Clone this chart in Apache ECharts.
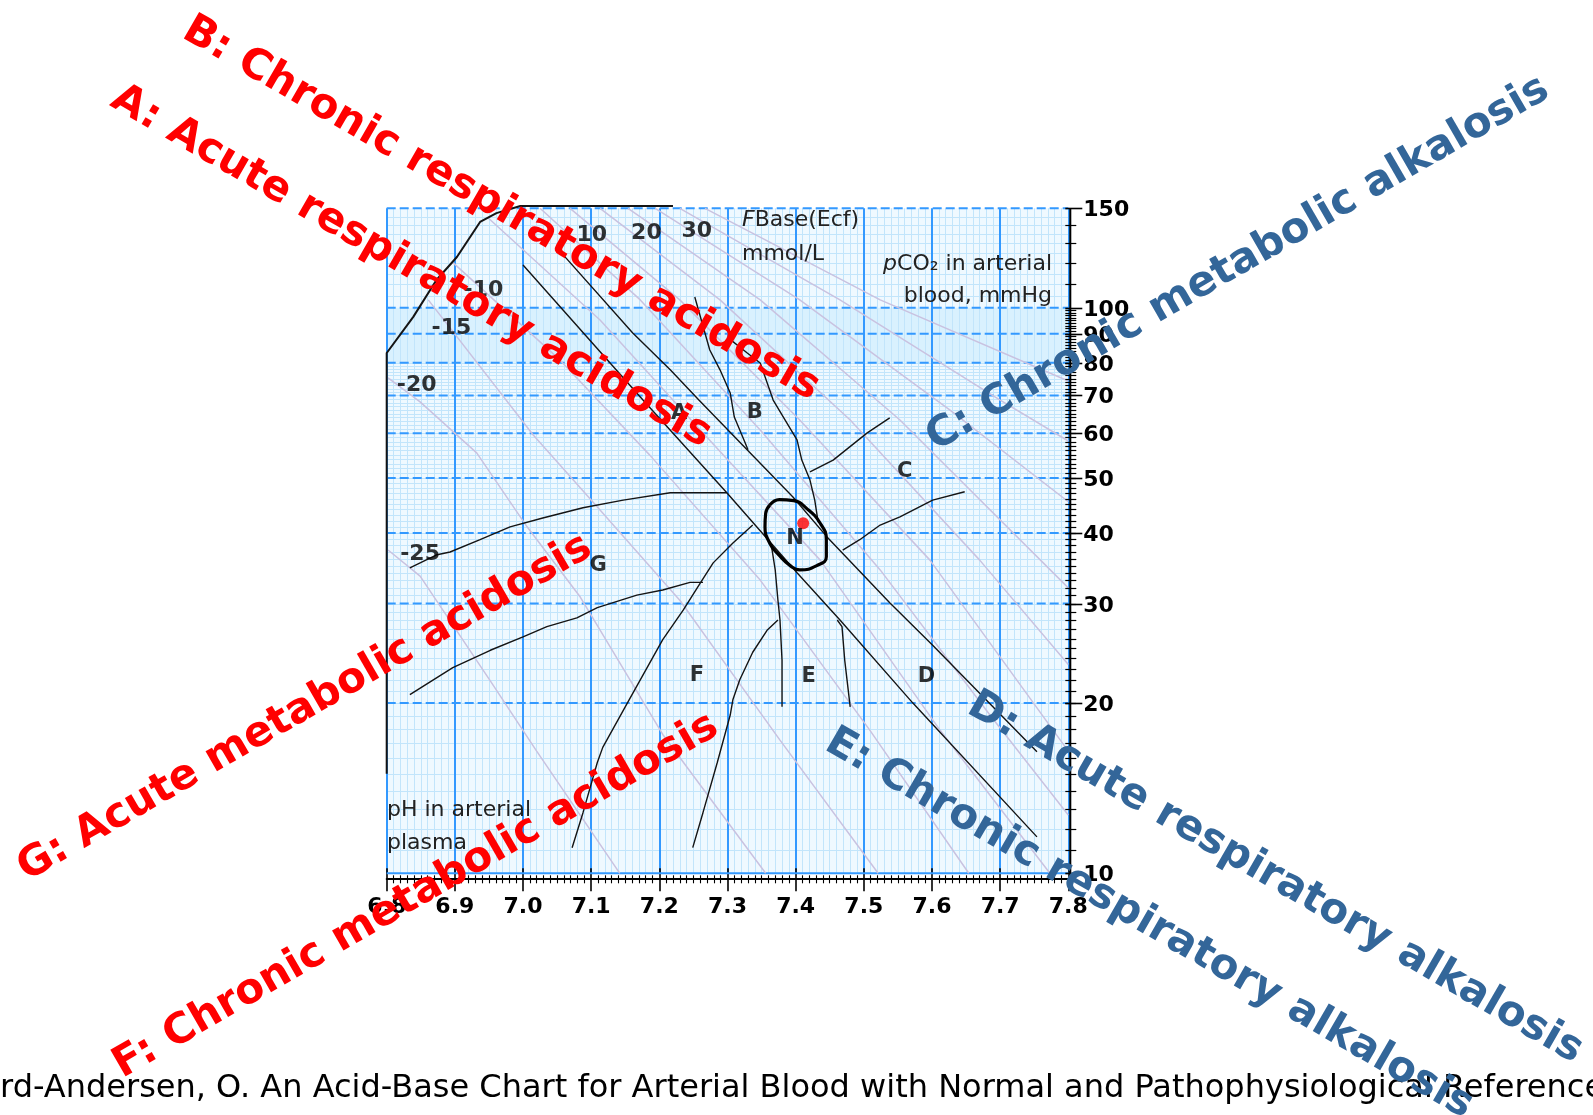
<!DOCTYPE html>
<html><head><meta charset="utf-8">
<script src="https://cdn.jsdelivr.net/npm/echarts@6/dist/echarts.min.js"></script>
<style>html,body{margin:0;padding:0;background:#fff}#c{width:1593px;height:1115px}</style>
</head><body><div id="c"></div>
<script>
// ---------- axis ticks / labels ----------
const phMin = 6.8, phMax = 7.8, phStep = 0.1;
const pco2Min = 10, pco2Max = 150;
const pco2AxisLabels = [10, 20, 30, 40, 50, 60, 70, 80, 90, 100, 150];
const pco2DashedGrid = [20, 30, 40, 50, 60, 70, 80, 90, 100, 150];
const pco2BandLight = [80, 100];
const pco2MinorTicks = [];
for (let v = 11; v < 100; v++) pco2MinorTicks.push(v);
const pco2MinorTicksHigh = [110, 120, 130, 140];
const pco2MinorGridHigh = [105, 110, 115, 120, 125, 130, 135, 140, 145];

// ---------- curves [pH, pCO2 mmHg] ----------
const chartBoundary = [[6.8,15.0],[6.8,83.2],[6.839,96.4],[6.873,112.0],[6.903,123.0],[6.937,141.9],[6.961,147.1],[6.996,151.4],[7.220,151.4]];
const lineL1 = [[7.000,119.1],[7.176,68.7],[7.299,47.1],[7.402,34.0],[7.465,28.05],[7.572,20.0],[7.754,11.6]];
const lineL2 = [[7.059,124.1],[7.161,90.3],[7.216,77.7],[7.258,68.7],[7.396,46.3],[7.446,39.35],[7.538,30.1],[7.601,25.3],[7.754,16.4]];
const lineBLeft = [[7.252,104.5],[7.274,84.25],[7.289,77.7],[7.304,70.7],[7.310,64.1],[7.326,57.7],[7.330,56.1]];
const lineBRight = [[7.301,88.5],[7.329,83.2],[7.348,79.9],[7.367,68.7],[7.387,62.6],[7.402,58.4],[7.409,53.8],[7.421,49.6],[7.428,45.7],[7.433,41.8]];
const lineCUpper = [[7.421,51.3],[7.455,53.8],[7.505,60.1],[7.538,63.9]];
const lineCLower = [[7.469,37.3],[7.494,38.9],[7.524,41.3],[7.553,42.7],[7.601,45.7],[7.648,47.3]];
const lineELeft = [[7.365,37.6],[7.370,34.4],[7.374,30.4],[7.377,28.05],[7.380,23.8],[7.380,19.7]];
const lineERight = [[7.461,28.05],[7.468,27.3],[7.472,23.8],[7.480,19.7]];
const lineFRight = [[7.374,28.05],[7.358,26.9],[7.337,24.6],[7.318,22.0],[7.308,20.3],[7.304,19.05],[7.285,15.7],[7.264,12.8],[7.249,11.1]];
const lineFLeft = [[7.337,41.3],[7.308,38.4],[7.279,35.4],[7.260,32.6],[7.235,29.2],[7.205,25.9],[7.153,20.0],[7.117,16.7],[7.109,15.7],[7.088,12.8],[7.072,11.1]];
const lineGUpper = [[6.834,34.7],[6.874,36.6],[6.893,37.0],[6.937,38.9],[6.981,41.0],[7.029,42.5],[7.088,44.3],[7.147,45.7],[7.216,47.1],[7.299,47.1]];
const lineGLower = [[7.264,32.7],[7.245,32.7],[7.205,31.7],[7.167,31.05],[7.109,29.5],[7.079,28.3],[7.035,27.3],[7.000,26.2],[6.952,24.8],[6.897,23.1],[6.834,20.7]];
const normalEllipse = [[7.362,44.8],[7.376,45.8],[7.397,45.6],[7.416,44.2],[7.436,41.6],[7.445,38.9],[7.445,36.3],[7.431,35.0],[7.406,34.4],[7.392,35.0],[7.375,36.6],[7.362,38.35],[7.355,41.0],[7.356,43.3],[7.362,44.8]];
const normalPoint = [7.411, 41.6];

// ---------- base excess iso-lines ----------
const beM25 = [[6.802,37.3],[6.849,33.55],[6.952,21.9],[7.020,16.45],[7.142,10]];
const beM20 = [[6.802,75.2],[6.849,68.2],[6.932,55.4],[7.006,41.0],[7.084,30.8],[7.205,17.6],[7.356,10]];
const beM15 = [[6.861,103.3],[7.015,59.6],[7.113,43.9],[7.230,30.4],[7.377,17.2],[7.521,10]];
const beM10 = [[6.896,120.6],[7.054,80.9],[7.186,54.9],[7.348,33.0],[7.509,17.9],[7.654,10]];
const beM5 = [[6.949,144.2],[7.113,95.2],[7.260,60.8],[7.436,35.8],[7.612,17.9],[7.773,10]];
const beP0 = [[7.025,150],[7.172,103.3],[7.348,60.8],[7.524,34.4],[7.685,19.05],[7.8,12.68]];
const beP5 = [[7.069,150],[7.230,103.3],[7.406,63.35],[7.597,35.8],[7.8,16.45]];
const beP10 = [[7.113,150],[7.289,103.3],[7.480,63.35],[7.670,35.8],[7.8,23.4]];
const beP15 = [[7.154,150],[7.348,103.3],[7.553,63.35],[7.8,31.97]];
const beP20 = [[7.194,150],[7.406,103.3],[7.626,66.0],[7.8,45.4]];
const beP25 = [[7.230,150],[7.465,103.3],[7.700,68.7],[7.8,58.15]];
const beP30 = [[7.267,150],[7.524,103.3],[7.8,74.25]];

// ---------- labels ----------
const regionLabels = [['A',7.229,64.9],['B',7.340,65.2],['C',7.560,51.4],['D',7.592,22.3],['E',7.419,22.3],['F',7.255,22.4],['G',7.110,35.0],['N',7.399,39.1]];
const beLabels = [['10',7.101,134.6],['20',7.181,135.5],['30',7.255,136.4],['-10',6.942,107.6],['-15',6.895,92.0],['-20',6.844,73.1],['-25',6.849,36.6]];

const RED = '#ff0000', BLUE = '#336699';
const overlayTexts = [
  ['A: Acute respiratory acidosis', 411, 267, -30, RED],
  ['B: Chronic respiratory acidosis', 501, 209, -30, RED],
  ['C: Chronic metabolic alkalosis', 1238, 264, 30, BLUE],
  ['D: Acute respiratory alkalosis', 1275, 878, -30, BLUE],
  ['E: Chronic respiratory alkalosis', 1149, 924, -30, BLUE],
  ['F: Chronic metabolic acidosis', 416, 896, 30, RED],
  ['G: Acute metabolic acidosis', 305, 708, 30, RED]
];

const chart = echarts.init(document.getElementById('c'));

function txt(text, x, y, font, fill, align, vAlign, extra) {
  return Object.assign({
    type: 'text', x: x, y: y, z: 100,
    style: { text: text, font: font, fill: fill, textAlign: align, align: align,
             textVerticalAlign: vAlign, verticalAlign: vAlign }
  }, extra || {});
}

const blackLineSet = [chartBoundary, lineL1, lineL2, lineBLeft, lineBRight, lineCUpper, lineCLower,
  lineELeft, lineERight, lineFRight, lineFLeft, lineGUpper, lineGLower];
const beSet = [beM25, beM20, beM15, beM10, beM5, beP0, beP5, beP10, beP15, beP20, beP25, beP30];

const series = [];
series.push({
  type: 'custom', data: [[phMin, pco2Min]], z: -1, silent: true, clip: false,
  renderItem: function (params, api) {
    const x0 = api.coord([phMin, pco2Min])[0], x1 = api.coord([phMax, pco2Min])[0];
    const yT = api.coord([phMin, pco2Max])[1], yB = api.coord([phMin, pco2Min])[1];
    const ch = [{ type: 'rect', shape: { x: x0, y: yT, width: x1 - x0, height: yB - yT }, style: { fill: '#eff9ff' } }];
    const b0 = api.coord([phMin, pco2BandLight[1]])[1], b1 = api.coord([phMin, pco2BandLight[0]])[1];
    ch.push({ type: 'rect', shape: { x: x0, y: b0, width: x1 - x0, height: b1 - b0 }, style: { fill: '#d9f1fe' } });
    pco2MinorTicks.concat(pco2MinorGridHigh).forEach(function (v) {
      if (v > pco2BandLight[0] && v < pco2BandLight[1]) return;
      const y = Math.round(api.coord([phMin, v])[1]) + 0.5;
      ch.push({ type: 'line', shape: { x1: x0, y1: y, x2: x1, y2: y }, style: { stroke: '#c2e5fb', lineWidth: 1 } });
    });
    return { type: 'group', children: ch };
  }
});
series.push({
  type: 'custom', data: [[phMin, pco2Min]], z: 1, silent: true, clip: false,
  renderItem: function (params, api) {
    const x0 = api.coord([phMin, pco2Min])[0], x1 = api.coord([phMax, pco2Min])[0];
    const ch = [];
    pco2DashedGrid.forEach(function (v) {
      const y = api.coord([phMin, v])[1];
      ch.push({ type: 'line', shape: { x1: x0, y1: y, x2: x1, y2: y }, style: { stroke: '#3399ff', lineWidth: 2, lineDash: [9, 4] } });
    });
    const yb = api.coord([phMin, pco2Min])[1];
    ch.push({ type: 'line', shape: { x1: x0, y1: yb, x2: x1, y2: yb }, style: { stroke: '#3399ff', lineWidth: 2 } });
    return { type: 'group', children: ch };
  }
});
series.push({
  type: 'custom', data: [[phMax, pco2Min]], z: 6, silent: true, clip: false,
  renderItem: function (params, api) {
    const ax = api.coord([phMax, pco2Min])[0] + 2;
    const yT = api.coord([phMax, pco2Max])[1], yB = api.coord([phMax, pco2Min])[1];
    const ch = [{ type: 'line', shape: { x1: ax, y1: yT, x2: ax, y2: yB + 5 }, style: { stroke: '#000', lineWidth: 2 } }];
    pco2MinorTicks.concat(pco2MinorTicksHigh).forEach(function (v) {
      const y = Math.round(api.coord([phMax, v])[1]) + 0.5;
      ch.push({ type: 'line', shape: { x1: ax - 5, y1: y, x2: ax + 6, y2: y }, style: { stroke: '#000', lineWidth: 1.2 } });
    });
    pco2AxisLabels.forEach(function (v) {
      const y = Math.round(api.coord([phMax, v])[1]) + 0.5;
      ch.push({ type: 'line', shape: { x1: ax - 5, y1: y, x2: ax + 12, y2: y }, style: { stroke: '#000', lineWidth: 1.6 } });
      ch.push({ type: 'text', x: ax + 13, y: y + 2, style: { text: String(v), font: 'bold 22px "DejaVu Sans"', fill: '#000',
        textAlign: 'left', align: 'left', textVerticalAlign: 'middle', verticalAlign: 'middle' } });
    });
    return { type: 'group', children: ch };
  }
});
beSet.forEach(function (d) {
  series.push({ type: 'line', data: d, symbol: 'none', silent: true, z: 2,
    lineStyle: { color: '#c9c2e0', width: 1.5 } });
});
blackLineSet.forEach(function (d, i) {
  series.push({ type: 'line', data: d, symbol: 'none', silent: true, z: 3, clip: i !== 0,
    lineStyle: { color: '#141414', width: i === 0 ? 2 : 1.4 } });
});
series.push({ type: 'line', data: normalEllipse, symbol: 'none', silent: true, z: 4, smooth: 0.5,
  lineStyle: { color: '#000', width: 3.2 } });
series.push({ type: 'scatter', data: [normalPoint], symbolSize: 12, silent: true, z: 5,
  itemStyle: { color: '#ff0000' } });
series.push({ type: 'scatter', silent: true, z: 5, symbolSize: 1,
  data: regionLabels.map(function (r) { return { name: r[0], value: [r[1], r[2]] }; }),
  itemStyle: { color: 'rgba(0,0,0,0)' },
  label: { show: true, position: 'inside', formatter: '{b}', fontFamily: 'DejaVu Sans', fontWeight: 'bold', fontSize: 21, color: '#000' } });
series.push({ type: 'scatter', silent: true, z: 5, symbolSize: 1,
  data: beLabels.map(function (r) { return { name: r[0], value: [r[1], r[2]] }; }),
  itemStyle: { color: 'rgba(0,0,0,0)' },
  label: { show: true, position: 'inside', formatter: '{b}', fontFamily: 'DejaVu Sans', fontWeight: 'bold', fontSize: 22, color: '#000' } });

const graphics = [];
graphics.push(txt('{it|F}Base(Ecf)', 742, 220, '22px "DejaVu Sans"', '#222', 'left', 'middle',
  { style: { text: '{it|F}Base(Ecf)', font: '22px "DejaVu Sans"', fill: '#222', textAlign: 'left', align: 'left', textVerticalAlign: 'middle', verticalAlign: 'middle',
    rich: { it: { fontStyle: 'italic', fontFamily: 'DejaVu Sans', fontSize: 22, fill: '#222' } } } }));
graphics.push(txt('mmol/L', 742, 254, '22px "DejaVu Sans"', '#222', 'left', 'middle'));
graphics.push(txt('{it|p}CO\u2082 in arterial', 1052, 264, '22px "DejaVu Sans"', '#222', 'right', 'middle',
  { style: { text: '{it|p}CO\u2082 in arterial', font: '22px "DejaVu Sans"', fill: '#222', textAlign: 'right', align: 'right', textVerticalAlign: 'middle', verticalAlign: 'middle',
    rich: { it: { fontStyle: 'italic', fontFamily: 'DejaVu Sans', fontSize: 22, fill: '#222' } } } }));
graphics.push(txt('blood, mmHg', 1052, 296, '22px "DejaVu Sans"', '#222', 'right', 'middle'));
graphics.push(txt('pH in arterial', 387, 810, '22px "DejaVu Sans"', '#222', 'left', 'middle'));
graphics.push(txt('plasma', 387, 843, '22px "DejaVu Sans"', '#222', 'left', 'middle'));
overlayTexts.forEach(function (t) {
  graphics.push(txt(t[0], t[1], t[2], 'bold 42px "DejaVu Sans"', t[4], 'center', 'middle', { rotation: t[3] * Math.PI / 180, z: 200 }));
});
graphics.push(txt('Siggaard-Andersen, O. An Acid-Base Chart for Arterial Blood with Normal and Pathophysiological Reference Areas',
  -109, 1089, '32px "DejaVu Sans"', '#000', 'left', 'middle', { z: 150 }));

chart.setOption({
  animation: false,
  backgroundColor: '#ffffff',
  grid: { left: 386.7, top: 208.3, right: 524.7, bottom: 241.7, containLabel: false },
  xAxis: [{
    type: 'value', min: phMin, max: phMax, interval: phStep, position: 'bottom', offset: 5,
    axisLine: { show: true, onZero: false, lineStyle: { color: '#000', width: 2 } },
    axisTick: { show: true, length: 13, lineStyle: { color: '#000', width: 1.6 } },
    minorTick: { show: true, splitNumber: 10, length: 5, lineStyle: { color: '#000', width: 1.1 } },
    axisLabel: { margin: 18, fontFamily: 'DejaVu Sans', fontWeight: 'bold', fontSize: 22, color: '#000',
      showMinLabel: true, showMaxLabel: true, formatter: function (v) { return v.toFixed(1); } },
    splitLine: { show: true, lineStyle: { color: '#3399ff', width: 2 } },
    minorSplitLine: { show: true, lineStyle: { color: '#c2e5fb', width: 1 } }
  }, {
    type: 'value', min: phMin, max: phMax, interval: phStep, position: 'bottom', offset: 5, gridIndex: 0,
    axisLine: { show: false, onZero: false },
    axisTick: { show: true, inside: true, length: 10, lineStyle: { color: '#000', width: 1.6 } },
    minorTick: { show: true, splitNumber: 10, length: 3, lineStyle: { color: '#000', width: 1.1 } },
    axisLabel: { show: false }, splitLine: { show: false }
  }],
  yAxis: {
    type: 'log', logBase: 10, min: pco2Min, max: pco2Max, position: 'right',
    axisLine: { show: false }, axisTick: { show: false }, axisLabel: { show: false },
    splitLine: { show: false }, minorTick: { show: false }, minorSplitLine: { show: false }
  },
  series: series,
  graphic: { elements: graphics }
});
</script>
</body></html>
